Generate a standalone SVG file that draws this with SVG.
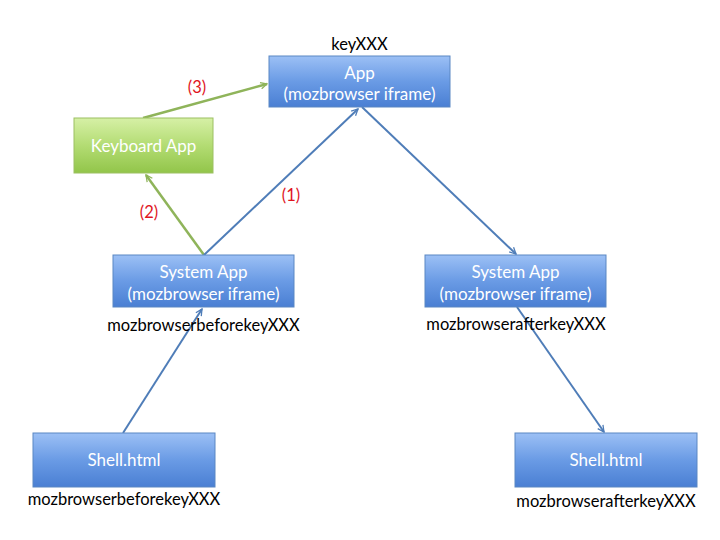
<svg xmlns="http://www.w3.org/2000/svg" width="720" height="540" viewBox="0 0 720 540">
<defs>
<linearGradient id="gb" x1="0" y1="0" x2="0" y2="1">
<stop offset="0" stop-color="#9cc0f5"/>
<stop offset="0.5" stop-color="#6a9be5"/>
<stop offset="1" stop-color="#4a7fd3"/>
</linearGradient>
<linearGradient id="gg" x1="0" y1="0" x2="0" y2="1">
<stop offset="0" stop-color="#d6f0a6"/>
<stop offset="0.5" stop-color="#b3dc73"/>
<stop offset="1" stop-color="#92c54a"/>
</linearGradient>
<marker id="ab" viewBox="0 0 10 10" refX="9" refY="5" markerWidth="8" markerHeight="8" orient="auto" markerUnits="userSpaceOnUse">
<path d="M1,1 L9,5 L1,9" fill="none" stroke="#4f7db8" stroke-width="1.6"/>
</marker>
<marker id="ag" viewBox="0 0 10 10" refX="9" refY="5" markerWidth="8" markerHeight="8" orient="auto" markerUnits="userSpaceOnUse">
<path d="M1,1 L9,5 L1,9" fill="none" stroke="#8fb45a" stroke-width="1.6"/>
</marker>
</defs>
<style>
.bb{fill:url(#gb);stroke:#5a87c3;stroke-width:1}
.bg{fill:url(#gg);stroke:#9cc062;stroke-width:1}
.t{font-family:Lato,"Liberation Sans",sans-serif;font-size:17px;fill:#ffffff;text-anchor:middle}
.k{font-family:Lato,"Liberation Sans",sans-serif;font-size:16.5px;fill:#000000;text-anchor:middle}
.n{font-family:Lato,"Liberation Sans",sans-serif;font-size:16.5px;fill:#e0141e;text-anchor:middle}
.cb{stroke:#4f7db8;stroke-width:2;fill:none;marker-end:url(#ab)}
.cg{stroke:#8fb45a;stroke-width:2.5;fill:none;marker-end:url(#ag)}
</style>
<g id="connectors">
<line class="cg" x1="143" y1="118" x2="267" y2="84"/>
<line class="cg" x1="204" y1="255" x2="146" y2="175"/>
<line class="cb" x1="204" y1="255" x2="358" y2="109"/>
<line class="cb" x1="362" y1="107" x2="516" y2="254"/>
<line class="cb" x1="123" y1="433" x2="202" y2="309"/>
<line class="cb" x1="517" y1="307" x2="604" y2="432"/>
<text class="n" x="197" y="93">(3)</text>
<text class="n" x="149" y="218">(2)</text>
<text class="n" x="291" y="201">(1)</text>
</g>
<g id="app">
<rect class="bb" x="269" y="56" width="181" height="51"/>
<text class="t" x="359.5" y="79">App</text>
<text class="t" x="359.5" y="100">(mozbrowser iframe)</text>
<text class="k" x="359.5" y="50">keyXXX</text>
</g>
<g id="keyboard">
<rect class="bg" x="74" y="118" width="139" height="55"/>
<text class="t" x="143.5" y="152">Keyboard App</text>
</g>
<g id="system-left">
<rect class="bb" x="113" y="255" width="181" height="52"/>
<text class="t" x="203.5" y="278">System App</text>
<text class="t" x="203.5" y="300">(mozbrowser iframe)</text>
<text class="k" x="203.5" y="331">mozbrowserbeforekeyXXX</text>
</g>
<g id="system-right">
<rect class="bb" x="425" y="255" width="181" height="52"/>
<text class="t" x="515.5" y="278">System App</text>
<text class="t" x="515.5" y="300">(mozbrowser iframe)</text>
<text class="k" x="516" y="330">mozbrowserafterkeyXXX</text>
</g>
<g id="shell-left">
<rect class="bb" x="33" y="433" width="182" height="54"/>
<text class="t" x="124" y="466">Shell.html</text>
<text class="k" x="124" y="505">mozbrowserbeforekeyXXX</text>
</g>
<g id="shell-right">
<rect class="bb" x="515" y="433" width="182" height="54"/>
<text class="t" x="606" y="466">Shell.html</text>
<text class="k" x="606" y="507">mozbrowserafterkeyXXX</text>
</g>
</svg>
